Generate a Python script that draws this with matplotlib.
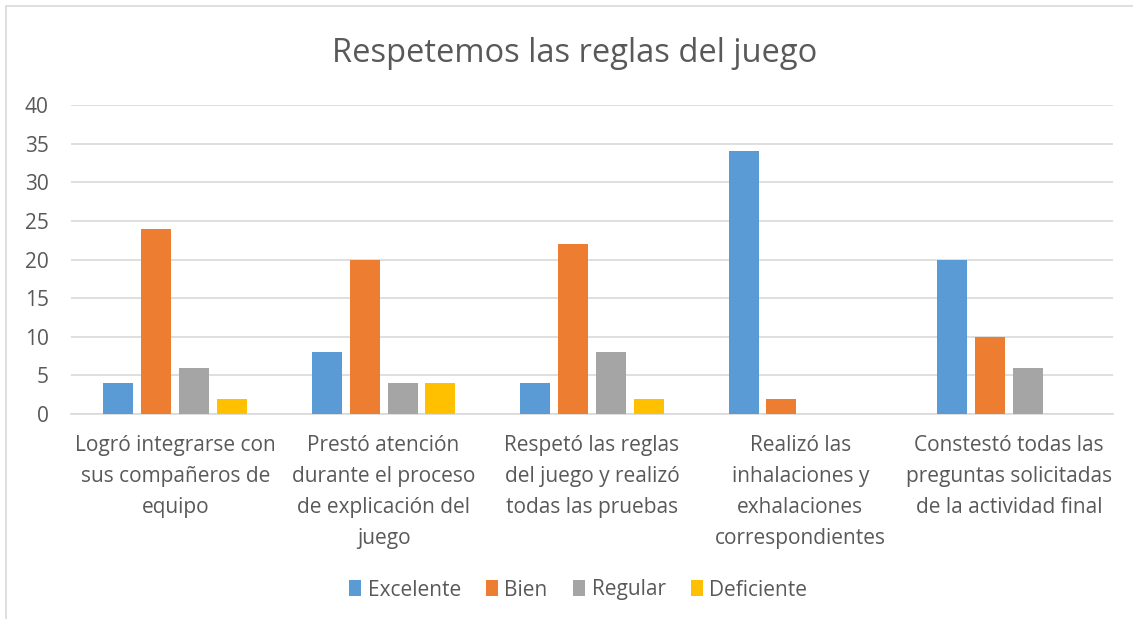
import matplotlib
matplotlib.use("Agg")
import matplotlib.pyplot as plt
import numpy as np
from matplotlib.patches import Rectangle

categories = [
    "Logró integrarse con\nsus compañeros de\nequipo",
    "Prestó atención\ndurante el proceso\nde explicación del\njuego",
    "Respetó las reglas\ndel juego y realizó\ntodas las pruebas",
    "Realizó las\ninhalaciones y\nexhalaciones\ncorrespondientes",
    "Constestó todas las\npreguntas solicitadas\nde la actividad final",
]
series_names = ["Excelente", "Bien", "Regular", "Deficiente"]
excelente = [4, 8, 4, 34, 20]
bien = [24, 20, 22, 2, 10]
regular = [6, 4, 8, 0, 6]
deficiente = [2, 4, 2, 0, 0]
colors = ["#5B9BD5", "#ED7D31", "#A5A5A5", "#FFC000"]
yticks = [0, 5, 10, 15, 20, 25, 30, 35, 40]

plt.rcParams['font.family'] = ['Open Sans', 'DejaVu Sans']
fig = plt.figure(figsize=(11.33, 6.19), dpi=100)
fig.patches.append(Rectangle((6/1133, -0.05), 1.2, 1 - 6/619 + 0.05, transform=fig.transFigure,
                             fill=False, edgecolor="#D9D9D9", linewidth=1.2))
ax = fig.add_axes([71/1133, 1 - 414/619, (1113 - 71)/1133, (414 - 105)/619])

x = np.arange(len(categories))
w = 0.144
step = 0.182
data = [excelente, bien, regular, deficiente]
for i, (vals, name, c) in enumerate(zip(data, series_names, colors)):
    ax.bar(x + (i - 1.5) * step, vals, width=w, color=c, label=name, zorder=3)

ax.set_xlim(-0.5, len(categories) - 0.5)
ax.set_ylim(0, 40)
ax.set_yticks(yticks)
ax.yaxis.grid(True, color="#D9D9D9", linewidth=1.2, zorder=0)
for s in ["top", "right", "left"]:
    ax.spines[s].set_visible(False)
ax.spines["bottom"].set_color("#D9D9D9")
ax.spines["bottom"].set_linewidth(1.2)
ax.tick_params(axis="both", length=0, colors="#595959", labelsize=15)
ax.tick_params(axis="y", pad=16)
ax.tick_params(axis="x", pad=15)
ax.set_xticks(x)
ax.set_xticklabels(categories, linespacing=1.63, va="top")

fig.text(575/1133, 1 - 53/619, "Respetemos las reglas del juego", ha="center", va="center",
         fontsize=23.5, color="#595959")

leg = fig.legend(loc="center", bbox_to_anchor=(578/1133, 1 - 590/619), ncol=4, frameon=False,
                 fontsize=15, handlelength=0.6, handleheight=0.8, handletextpad=0.3,
                 columnspacing=1.2)
for t in leg.get_texts():
    t.set_color("#595959")

fig.savefig("out.png", dpi=100)
